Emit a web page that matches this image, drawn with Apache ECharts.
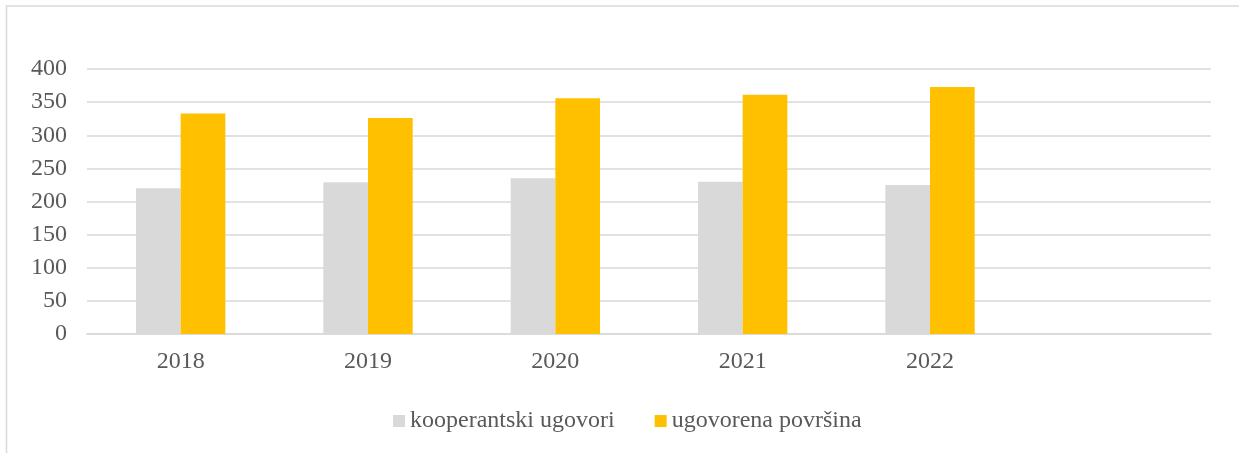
<!DOCTYPE html>
<html>
<head>
<meta charset="utf-8">
<script src="https://cdn.jsdelivr.net/npm/echarts@6/dist/echarts.min.js"></script>
<style>
  html, body { margin: 0; padding: 0; background: #fff; }
  #main { width: 1239px; height: 453px; }
</style>
</head>
<body>
<div id="main"></div>
<script>
// podaci
const years = ['2018', '2019', '2020', '2021', '2022', ''];
const ugovori = [220, 229, 235, 230, 225];
const povrsina = [333, 326, 356, 361, 373];
const yTicks = { min: 0, max: 400, interval: 50 };

const font = '"Liberation Serif", "Times New Roman", serif';
const textColor = '#595959';
const lineColor = '#d9d9d9';

const chart = echarts.init(document.getElementById('main'));

chart.setOption({
  animation: false,
  backgroundColor: '#fff',
  graphic: [
    {
      type: 'rect',
      shape: { x: 6.5, y: 6, width: 1300, height: 500 },
      style: { fill: 'none', stroke: lineColor, lineWidth: 1.5 },
      silent: true
    }
  ],
  grid: { left: 87, right: 28, top: 69, bottom: 119, containLabel: false },
  legend: {
    left: 388,
    top: 404,
    itemWidth: 12,
    itemHeight: 12,
    itemGap: 40,
    icon: 'rect',
    textStyle: { fontFamily: font, fontSize: 24, color: textColor },
    data: ['kooperantski ugovori', 'ugovorena površina']
  },
  xAxis: {
    type: 'category',
    data: years,
    axisTick: { show: false },
    axisLine: { show: true, lineStyle: { color: lineColor, width: 1.5 } },
    axisLabel: { fontFamily: font, fontSize: 24, color: textColor, margin: 16 }
  },
  yAxis: {
    type: 'value',
    min: yTicks.min,
    max: yTicks.max,
    interval: yTicks.interval,
    axisLine: { show: false },
    axisTick: { show: false },
    splitLine: { lineStyle: { color: lineColor, width: 1.5 } },
    axisLabel: { fontFamily: font, fontSize: 24, color: textColor, margin: 20 }
  },
  series: [
    {
      name: 'kooperantski ugovori',
      type: 'bar',
      data: ugovori,
      itemStyle: { color: '#d9d9d9' },
      barGap: '0%',
      barCategoryGap: '52.3%'
    },
    {
      name: 'ugovorena površina',
      type: 'bar',
      data: povrsina,
      itemStyle: { color: '#ffc000' },
      barGap: '0%',
      barCategoryGap: '52.3%'
    }
  ]
});
</script>
</body>
</html>
